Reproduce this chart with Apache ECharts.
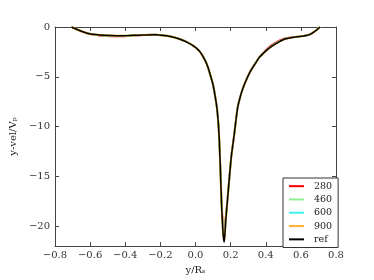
<!DOCTYPE html>
<html><head><meta charset="utf-8">
<script src="https://cdn.jsdelivr.net/npm/echarts@6/dist/echarts.min.js"></script>
<style>html,body{margin:0;padding:0;background:#fff}#c{width:374px;height:280px}</style>
</head><body><div id="c"></div>
<script>
var xRef = [-0.706,-0.66,-0.617,-0.57,-0.525,-0.45,-0.38,-0.32,-0.23,-0.18,-0.137,-0.1,-0.063,-0.03,0.0,0.03,0.056,0.07,0.084,0.097,0.106,0.115,0.121,0.127,0.132,0.136,0.139,0.142,0.148,0.153,0.158,0.163,0.167,0.172,0.176,0.183,0.19,0.197,0.204,0.212,0.219,0.23,0.241,0.255,0.269,0.287,0.305,0.324,0.343,0.361,0.38,0.398,0.425,0.453,0.48,0.509,0.545,0.583,0.615,0.638,0.66,0.675,0.69,0.703,0.71];
var yRef = [0,-0.35,-0.62,-0.76,-0.84,-0.88,-0.86,-0.82,-0.78,-0.85,-0.97,-1.15,-1.4,-1.7,-2.05,-2.6,-3.4,-4.0,-4.8,-5.6,-6.35,-7.3,-8.0,-9.0,-10.2,-11.6,-13.0,-14.4,-17.6,-19.5,-20.9,-21.6,-20.9,-19.5,-18.6,-17.2,-15.7,-14.3,-13.0,-11.9,-11.0,-9.4,-8.0,-7.0,-6.2,-5.4,-4.7,-4.1,-3.6,-3.1,-2.75,-2.45,-2.05,-1.73,-1.45,-1.2,-1.07,-0.98,-0.9,-0.82,-0.66,-0.49,-0.3,-0.1,0];
var y280 = [0,-0.36,-0.64,-0.8,-0.9,-0.95,-0.9,-0.83,-0.78,-0.85,-0.97,-1.15,-1.4,-1.7,-2.05,-2.6,-3.4,-4.0,-4.8,-5.6,-6.35,-7.3,-8.0,-9.0,-10.2,-11.6,-13.0,-14.4,-17.4,-19.0,-20.1,-20.4,-20.0,-19.1,-18.4,-17.1,-15.7,-14.3,-13.0,-11.9,-11.0,-9.4,-8.0,-7.0,-6.2,-5.4,-4.7,-4.1,-3.6,-3.08,-2.7,-2.38,-1.94,-1.6,-1.34,-1.14,-1.04,-0.97,-0.9,-0.82,-0.66,-0.49,-0.3,-0.1,0];
var y460 = [0,-0.35,-0.63,-0.77,-0.86,-0.9,-0.87,-0.82,-0.78,-0.85,-0.97,-1.15,-1.4,-1.7,-2.05,-2.6,-3.4,-4.0,-4.8,-5.6,-6.35,-7.3,-8.0,-9.0,-10.2,-11.6,-13.0,-14.4,-17.5,-19.3,-20.6,-21.2,-20.6,-19.3,-18.5,-17.2,-15.7,-14.3,-13.0,-11.9,-11.0,-9.4,-8.0,-7.0,-6.2,-5.4,-4.7,-4.1,-3.6,-3.1,-2.74,-2.43,-2.02,-1.69,-1.42,-1.18,-1.06,-0.98,-0.9,-0.82,-0.66,-0.49,-0.3,-0.1,0];
var y600 = [0,-0.35,-0.62,-0.76,-0.85,-0.89,-0.86,-0.82,-0.78,-0.85,-0.97,-1.15,-1.4,-1.7,-2.05,-2.6,-3.4,-4.0,-4.8,-5.6,-6.35,-7.3,-8.0,-9.0,-10.2,-11.6,-13.0,-14.4,-17.6,-19.4,-20.8,-21.4,-20.8,-19.4,-18.6,-17.2,-15.7,-14.3,-13.0,-11.9,-11.0,-9.4,-8.0,-7.0,-6.2,-5.4,-4.7,-4.1,-3.6,-3.1,-2.75,-2.44,-2.04,-1.71,-1.43,-1.19,-1.07,-0.98,-0.9,-0.82,-0.66,-0.49,-0.3,-0.1,0];
var y900 = [0,-0.35,-0.62,-0.76,-0.84,-0.88,-0.86,-0.82,-0.78,-0.85,-0.97,-1.15,-1.4,-1.7,-2.05,-2.6,-3.4,-4.0,-4.8,-5.6,-6.35,-7.3,-8.0,-9.0,-10.2,-11.6,-13.0,-14.4,-17.6,-19.5,-20.9,-21.5,-20.9,-19.5,-18.6,-17.2,-15.7,-14.3,-13.0,-11.9,-11.0,-9.4,-8.0,-7.0,-6.2,-5.4,-4.7,-4.1,-3.6,-3.1,-2.75,-2.45,-2.05,-1.73,-1.45,-1.2,-1.07,-0.98,-0.9,-0.82,-0.66,-0.49,-0.3,-0.1,0];
var seriesNames = ['280','460','600','900','ref'];
var seriesColors = ['#ff0000','#90ee90','#40f0f0','#ffb030','#000000'];
var xTicks = [-0.8,-0.6,-0.4,-0.2,0.0,0.2,0.4,0.6,0.8];
var yTicks = [0,-5,-10,-15,-20];

var ys = [y280,y460,y600,y900,yRef];
var FONT = 'DejaVu Serif';
function fmt(v, d){ var s = Math.abs(v).toFixed(d); return (v < -1e-9 ? '\u2212' : '') + s; }
var chart = echarts.init(document.getElementById('c'), null, {renderer:'canvas'});
var axisCommon = {
  axisLine:{show:true, onZero:false, lineStyle:{color:'#444', width:1}},
  axisTick:{show:true, inside:true, length:4, lineStyle:{color:'#444'}},
  splitLine:{show:false}
};
var series = seriesNames.map(function(n,i){
  return {
    name:n, type:'line', showSymbol:false, symbol:'none', smooth:0.25,
    data: xRef.map(function(x,j){ return [x, ys[i][j]]; }),
    lineStyle:{color:seriesColors[i], width: i===4 ? 1.5 : (i===3 ? 2.0 : 1.8)},
    itemStyle:{color:seriesColors[i]},
    z: 2+i, animation:false
  };
});
chart.setOption({
  animation:false,
  backgroundColor:'#fff',
  grid:{left:47, right:38, top:27, bottom:29, containLabel:false},
  legend:{
    orient:'vertical', left:283, top:178, width:40, height:70,
    data: seriesNames.map(function(n){ return {name:n, icon:'rect'}; }),
    itemWidth:15, itemHeight:2, itemGap:3,
    padding:[3,6,3,6],
    borderColor:'#333', borderWidth:1, backgroundColor:'#fff',
    textStyle:{fontFamily:FONT, fontSize:9.5, color:'#222', padding:[0,0,0,5], height:10.3, lineHeight:10.3}
  },
  xAxis:[
    Object.assign({type:'value', min:-0.8, max:0.8, interval:0.2, position:'bottom',
      name:'y/R\u209b', nameLocation:'middle', nameGap:12,
      nameTextStyle:{fontFamily:FONT, fontSize:10, color:'#222'},
      axisLabel:{fontFamily:FONT, fontSize:10, color:'#333', margin:4,
        formatter:function(v){ return fmt(v,1); }}
    }, axisCommon),
    Object.assign({type:'value', min:-0.8, max:0.8, interval:0.2, position:'top',
      axisLabel:{show:false}}, axisCommon)
  ],
  yAxis:[
    Object.assign({type:'value', min:-22, max:0, position:'left',
      name:'y-vel/V\u209a', nameLocation:'middle', nameGap:29, nameRotate:90,
      nameTextStyle:{fontFamily:FONT, fontSize:10, color:'#222'},
      axisLabel:{fontFamily:FONT, fontSize:10, color:'#333', margin:5, customValues:yTicks,
        formatter:function(v){ return fmt(v,0); }},
      axisTick:{show:true, inside:true, length:4, customValues:yTicks, lineStyle:{color:'#444'}}
    }, {axisLine:axisCommon.axisLine, splitLine:{show:false}}),
    {type:'value', min:-22, max:0, position:'right',
      axisLine:axisCommon.axisLine, splitLine:{show:false},
      axisLabel:{show:false, customValues:yTicks},
      axisTick:{show:true, inside:true, length:4, customValues:yTicks, lineStyle:{color:'#444'}}}
  ],
  series: series
});
</script>
</body></html>
